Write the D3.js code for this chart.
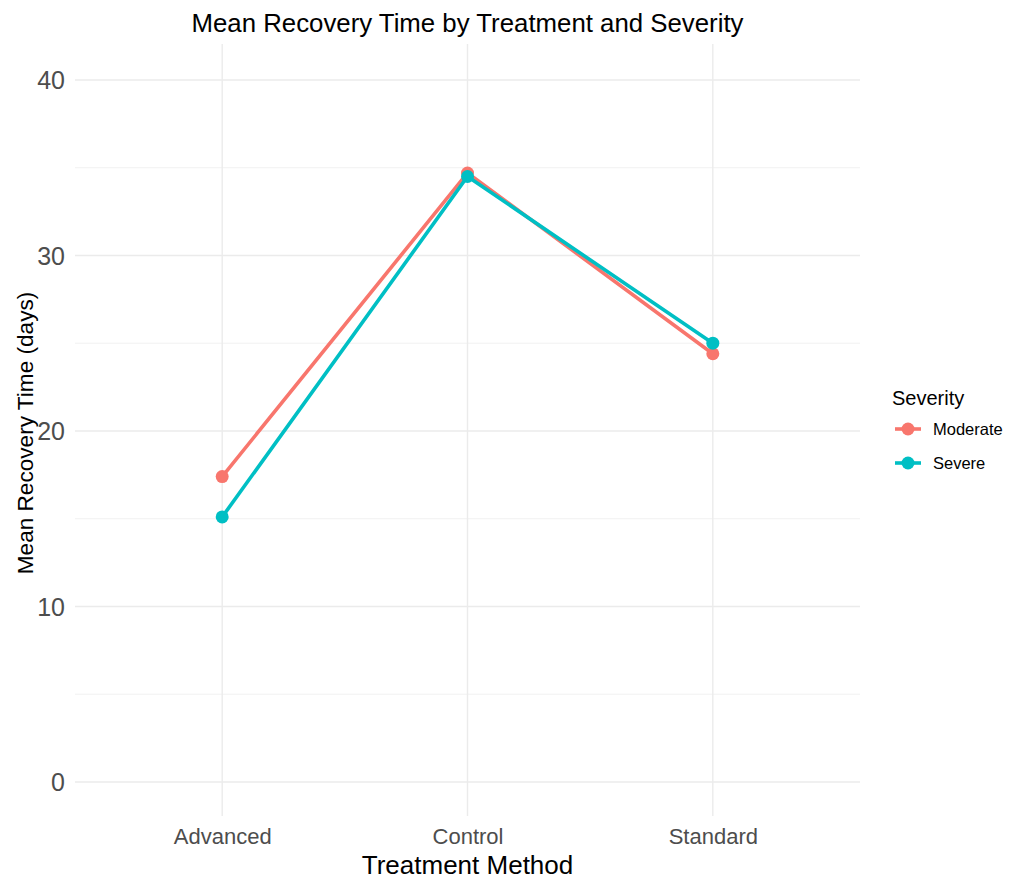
<!DOCTYPE html>
<html>
<head>
<meta charset="utf-8">
<script src="https://cdn.jsdelivr.net/npm/d3@7"></script>
<style>
  body { margin: 0; background: #fff; }
  text { font-family: "Liberation Sans", Arial, sans-serif; }
</style>
</head>
<body>
<script>
var treatments = ['Advanced', 'Control', 'Standard'];
var severities = ['Moderate', 'Severe'];
var colors = ['#F8766D', '#00BFC4'];
var moderate = [17.4, 34.7, 24.4];
var severe = [15.1, 34.5, 25.0];
var yTicks = [0, 10, 20, 30, 40];
var yMinor = [5, 15, 25, 35];

(function() {
    var W = 1024, H = 888,
        pLeft = 75, pRight = 860, pTop = 44, pBottom = 816;

    var svg = d3.select('body').append('svg')
        .attr('width', W)
        .attr('height', H);

    var x = d3.scalePoint()
        .domain(treatments)
        .range([pLeft, pRight])
        .padding(0.6);

    var y = d3.scaleLinear()
        .domain([-1.94, 42.05])
        .range([pBottom, pTop]);

    // grid
    svg.append('g').selectAll('line')
        .data(yMinor).enter().append('line')
        .attr('x1', pLeft).attr('x2', pRight)
        .attr('y1', function(d){ return y(d); })
        .attr('y2', function(d){ return y(d); })
        .attr('stroke', '#ebebeb').attr('stroke-width', 0.7);

    svg.append('g').selectAll('line')
        .data(yTicks).enter().append('line')
        .attr('x1', pLeft).attr('x2', pRight)
        .attr('y1', function(d){ return y(d); })
        .attr('y2', function(d){ return y(d); })
        .attr('stroke', '#ebebeb').attr('stroke-width', 1.4);

    svg.append('g').selectAll('line')
        .data(treatments).enter().append('line')
        .attr('x1', function(d){ return x(d); })
        .attr('x2', function(d){ return x(d); })
        .attr('y1', pTop).attr('y2', pBottom)
        .attr('stroke', '#ebebeb').attr('stroke-width', 1.4);

    // axes (labels only)
    var yAxis = svg.append('g')
        .attr('transform', 'translate(' + (pLeft - 10) + ',0)')
        .call(d3.axisLeft(y).tickValues(yTicks).tickSize(0).tickPadding(0));
    yAxis.select('.domain').remove();
    yAxis.selectAll('text')
        .attr('font-size', 25).attr('fill', '#4d4d4d')
        .attr('dy', '0.36em')
        .style('font-family', '"Liberation Sans", Arial, sans-serif');

    var xAxis = svg.append('g')
        .attr('transform', 'translate(0,844)')
        .call(d3.axisBottom(x).tickSize(0).tickPadding(0));
    xAxis.select('.domain').remove();
    xAxis.selectAll('text')
        .attr('y', 0).attr('dy', 0)
        .attr('font-size', 22).attr('fill', '#4d4d4d')
        .style('font-family', '"Liberation Sans", Arial, sans-serif');

    // lines and points
    var series = [moderate, severe];
    var line = d3.line()
        .x(function(d, i){ return x(treatments[i]); })
        .y(function(d){ return y(d); });

    series.forEach(function(s, k) {
        svg.append('path')
            .attr('d', line(s))
            .attr('fill', 'none')
            .attr('stroke', colors[k])
            .attr('stroke-width', 3.6);
        svg.append('g').selectAll('circle')
            .data(s).enter().append('circle')
            .attr('cx', function(d, i){ return x(treatments[i]); })
            .attr('cy', function(d){ return y(d); })
            .attr('r', 6.5)
            .attr('fill', colors[k]);
    });

    // titles
    svg.append('text')
        .attr('x', (pLeft + pRight) / 2).attr('y', 32)
        .attr('text-anchor', 'middle')
        .attr('font-size', 25.8).attr('fill', '#000')
        .text('Mean Recovery Time by Treatment and Severity');

    svg.append('text')
        .attr('x', (pLeft + pRight) / 2).attr('y', 874)
        .attr('text-anchor', 'middle')
        .attr('font-size', 26).attr('fill', '#000')
        .text('Treatment Method');

    svg.append('text')
        .attr('transform', 'translate(33,433) rotate(-90)')
        .attr('text-anchor', 'middle')
        .attr('font-size', 22.6).attr('fill', '#000')
        .text('Mean Recovery Time (days)');

    // legend
    var legend = svg.append('g').attr('transform', 'translate(892,0)');
    legend.append('text')
        .attr('x', 0).attr('y', 405)
        .attr('font-size', 20).attr('fill', '#000')
        .text('Severity');

    severities.forEach(function(s, k) {
        var cy = 429 + k * 34;
        legend.append('line')
            .attr('x1', 3).attr('x2', 29)
            .attr('y1', cy).attr('y2', cy)
            .attr('stroke', colors[k]).attr('stroke-width', 3.6);
        legend.append('circle')
            .attr('cx', 16).attr('cy', cy).attr('r', 6.5)
            .attr('fill', colors[k]);
        legend.append('text')
            .attr('x', 41).attr('y', cy + 6)
            .attr('font-size', 16.5).attr('fill', '#000')
            .text(s);
    });
})();
</script>
</body>
</html>
